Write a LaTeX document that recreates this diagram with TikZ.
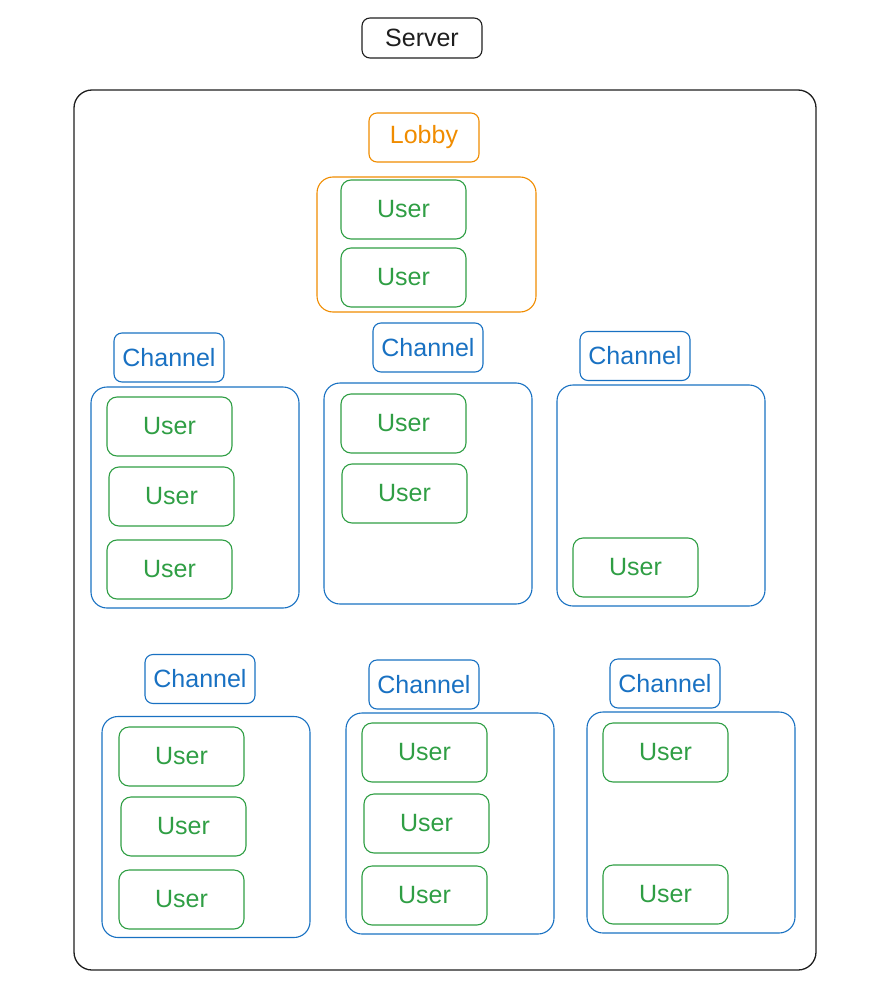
\documentclass[tikz,border=0pt]{standalone}
\usepackage{fontspec}
\setmainfont{Liberation Sans}
\definecolor{inkgreen}{HTML}{2F9E44}
\definecolor{inkblue}{HTML}{1971C2}
\definecolor{inkorange}{HTML}{F08C00}
\definecolor{inkblack}{HTML}{1E1E1E}
\tikzset{every picture/.style={line width=1.1pt}}
\tikzset{
  labelbox/.style={draw, rounded corners=8pt, minimum width=110pt, minimum height=49pt, inner sep=0pt, font=\fontsize{25}{29}\selectfont},
  userbox/.style={draw=inkgreen, text=inkgreen, rounded corners=10pt, minimum width=125pt, minimum height=59pt, inner sep=0pt, font=\fontsize{25}{29}\selectfont},
  chanbox/.style={draw=inkblue, rounded corners=16pt, minimum width=208pt, minimum height=221pt, inner sep=0pt},
}

\begin{document}
\begin{tikzpicture}[x=1pt,y=1pt,yscale=-1,xscale=1]
\useasboundingbox (0,0) rectangle (893,995);

%Shape: Server frame
\draw [inkblack, line width=1.3pt, rounded corners=18pt] (74,90) rectangle (816,970);
% Text Node
\node [labelbox, draw=inkblack, text=inkblack, minimum width=120pt, minimum height=40pt] (server) at (422,38) {Server};

%Lobby
\node [labelbox, draw=inkorange, text=inkorange] (lobby) at (424,137.5) {Lobby};
\node [chanbox, draw=inkorange, minimum width=219pt, minimum height=135pt] (lobbybox) at (426.5,244.5) {};
\node [userbox] (lu1) at (403.5,209.5) {User};
\node [userbox] (lu2) at (403.5,277.5) {User};

%Channel A
\node [labelbox, draw=inkblue, text=inkblue] (cha) at (169,357.5) {Channel};
\node [chanbox] (boxa) at (195,497.5) {};
\node [userbox] (a1) at (169.5,426.5) {User};
\node [userbox] (a2) at (171.5,496.5) {User};
\node [userbox] (a3) at (169.5,569.5) {User};

%Channel B
\node [labelbox, draw=inkblue, text=inkblue] (chb) at (428,347.5) {Channel};
\node [chanbox] (boxb) at (428,493.5) {};
\node [userbox] (b1) at (403.5,423.5) {User};
\node [userbox] (b2) at (404.5,493.5) {User};

%Channel C
\node [labelbox, draw=inkblue, text=inkblue] (chc) at (635,356) {Channel};
\node [chanbox] (boxc) at (661,495.5) {};
\node [userbox] (c1) at (635.5,567.5) {User};

%Channel D
\node [labelbox, draw=inkblue, text=inkblue] (chd) at (200,679) {Channel};
\node [chanbox] (boxd) at (206,827) {};
\node [userbox] (d1) at (181.5,756.5) {User};
\node [userbox] (d2) at (183.5,826.5) {User};
\node [userbox] (d3) at (181.5,899.5) {User};

%Channel E
\node [labelbox, draw=inkblue, text=inkblue] (che) at (424,684.5) {Channel};
\node [chanbox] (boxe) at (450,823.5) {};
\node [userbox] (e1) at (424.5,752.5) {User};
\node [userbox] (e2) at (426.5,823.5) {User};
\node [userbox] (e3) at (424.5,895.5) {User};

%Channel F
\node [labelbox, draw=inkblue, text=inkblue] (chf) at (665,683.5) {Channel};
\node [chanbox] (boxf) at (691,822.5) {};
\node [userbox] (f1) at (665.5,752.5) {User};
\node [userbox] (f2) at (665.5,894.5) {User};

\end{tikzpicture}
\end{document}
